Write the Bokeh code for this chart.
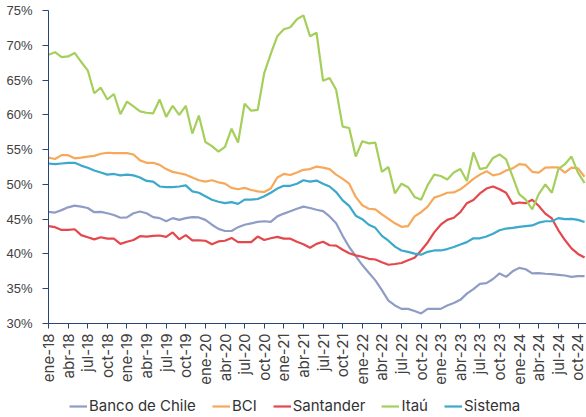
from bokeh.plotting import figure
from bokeh.layouts import column
from bokeh.models import FixedTicker, Legend, LegendItem, PrintfTickFormatter, Range1d
from bokeh.embed import file_html
from bokeh.resources import INLINE
import math

meses = ["ene", "feb", "mar", "abr", "may", "jun", "jul", "ago", "sep", "oct", "nov", "dic"]
anios = ["18", "19", "20", "21", "22", "23", "24"]
fechas = [f"{m}-{a}" for a in anios for m in meses][:83]   # ene-18 .. nov-24

banco_chile = [46.05, 45.95, 46.3, 46.7, 46.95, 46.8, 46.6, 46.0, 46.05, 45.85,
               45.6, 45.2, 45.25, 45.85, 46.1, 45.85, 45.3, 45.15, 44.7, 45.15,
               44.9, 45.15, 45.3, 45.25, 44.9, 44.2, 43.6, 43.3, 43.3, 43.85,
               44.2, 44.4, 44.6, 44.7, 44.6, 45.4, 45.8, 46.15, 46.5, 46.8,
               46.6, 46.35, 46.15, 45.4, 44.4, 42.6, 41.0, 39.7, 38.4, 37.3,
               36.2, 34.8, 33.3, 32.6, 32.1, 32.1, 31.8, 31.45, 32.1, 32.1,
               32.1, 32.6, 32.95, 33.4, 34.3, 34.95, 35.7, 35.8, 36.4, 37.2,
               36.7, 37.5, 38.0, 37.8, 37.2, 37.25, 37.15, 37.1, 37.0, 36.9,
               36.7, 36.8, 36.8]
bci = [53.85, 53.65, 54.2, 54.2, 53.75, 53.85, 54.0, 54.1, 54.4, 54.55,
       54.5, 54.5, 54.5, 54.3, 53.45, 53.1, 53.1, 52.8, 52.2, 51.8,
       51.6, 51.4, 51.0, 50.6, 50.4, 50.6, 50.3, 50.1, 49.5, 49.3,
       49.5, 49.2, 49.0, 48.9, 49.4, 51.0, 51.5, 51.35, 51.7, 52.1,
       52.2, 52.55, 52.4, 52.2, 51.4, 50.8, 50.1, 48.2, 47.0, 46.5,
       46.4, 45.7, 45.05, 44.4, 43.9, 44.0, 45.4, 46.0, 46.8, 48.1,
       48.4, 48.8, 48.85, 49.3, 50.0, 50.8, 51.4, 51.9, 51.3, 51.5,
       52.0, 52.3, 52.9, 52.8, 51.8, 51.7, 52.4, 52.45, 52.45, 51.7,
       52.4, 52.3, 51.1]
santander = [44.0, 43.85, 43.45, 43.45, 43.55, 42.7, 42.4, 42.1, 42.4, 42.2,
             42.2, 41.45, 41.75, 42.0, 42.55, 42.5, 42.6, 42.65, 42.45, 43.1,
             42.1, 42.7, 41.95, 41.95, 41.9, 41.4, 41.8, 41.9, 42.3, 41.7,
             41.7, 41.7, 42.5, 42.0, 42.25, 42.45, 42.2, 42.2, 41.75, 41.4,
             40.9, 41.45, 41.75, 41.25, 41.2, 40.6, 40.1, 39.8, 39.6, 39.3,
             39.2, 38.8, 38.45, 38.55, 38.7, 39.1, 39.45, 40.5, 41.65, 43.1,
             44.2, 44.9, 45.2, 46.0, 47.3, 47.75, 48.7, 49.4, 49.7, 49.3,
             48.8, 47.2, 47.4, 47.3, 47.8, 46.9, 45.8, 45.1, 43.4, 42.0,
             40.8, 40.0, 39.5]
itau = [68.65, 69.0, 68.3, 68.4, 68.9, 67.6, 66.4, 63.1, 63.9, 62.2,
        63.0, 60.1, 61.9, 61.2, 60.5, 60.3, 60.2, 62.2, 59.7, 61.3,
        60.0, 61.3, 57.3, 59.9, 56.1, 55.5, 54.7, 55.4, 58.0, 56.0,
        61.6, 60.6, 60.7, 66.0, 68.75, 71.3, 72.3, 72.6, 73.75, 74.3,
        71.3, 71.8, 64.9, 65.3, 63.6, 58.3, 58.1, 54.0, 56.2, 55.9,
        56.0, 51.8, 52.5, 48.7, 50.1, 49.6, 48.2, 47.8, 49.9, 51.4,
        51.2, 50.7, 51.7, 52.2, 50.5, 54.6, 52.2, 52.4, 53.8, 54.3,
        53.6, 51.1, 48.6, 47.8, 46.4, 48.6, 50.0, 48.8, 52.2, 52.9,
        54.0, 51.7, 50.2]
sistema = [53.0, 52.9, 53.0, 53.1, 53.1, 52.7, 52.4, 52.0, 51.7, 51.4,
           51.5, 51.3, 51.4, 51.3, 51.0, 50.5, 50.4, 49.7, 49.6, 49.6,
           49.7, 49.85, 49.0, 48.8, 48.3, 47.8, 47.5, 47.3, 47.45, 47.2,
           47.8, 47.8, 47.9, 48.3, 48.8, 49.4, 49.8, 49.8, 50.1, 50.6,
           50.4, 50.55, 50.1, 49.7, 48.9, 47.7, 46.9, 45.5, 45.0, 44.2,
           43.75, 42.6, 41.9, 41.05, 40.5, 40.3, 40.05, 39.9, 40.3, 40.5,
           40.5, 40.7, 41.0, 41.35, 41.7, 42.25, 42.25, 42.5, 42.9, 43.4,
           43.65, 43.75, 43.9, 44.0, 44.1, 44.5, 44.7, 44.7, 45.15, 45.0,
           45.05, 44.9, 44.6]

nombres = ["Banco de Chile", "BCI", "Santander", "Itaú", "Sistema"]
series = [banco_chile, bci, santander, itau, sistema]
colores = ["#8F9CC6", "#F6A95A", "#E4474C", "#A5CF5B", "#3AA9CB"]
y_ticks = [30, 35, 40, 45, 50, 55, 60, 65, 70, 75]

x = list(range(len(fechas)))
tick_pos = list(range(0, len(fechas), 3))

p = figure(width=586, height=387, output_backend="svg", toolbar_location=None,
           x_range=Range1d(0, 82.3), y_range=Range1d(30, 75),
           min_border_left=48, min_border_right=0, min_border_top=10, min_border_bottom=64)
p.outline_line_color = None
p.xgrid.visible = False
p.ygrid.visible = False
p.background_fill_color = "white"
p.border_fill_color = "white"

axis_col = "#2A4478"
p.yaxis.ticker = FixedTicker(ticks=y_ticks)
p.yaxis.formatter = PrintfTickFormatter(format="%d%%")
p.yaxis.axis_line_color = axis_col
p.yaxis.major_tick_line_color = axis_col
p.yaxis.major_tick_out = 6
p.yaxis.major_tick_in = 0
p.yaxis.minor_tick_line_color = None
p.yaxis.major_label_standoff = 10
p.yaxis.major_label_text_font = "Liberation Sans"
p.yaxis.major_label_text_font_size = "13px"
p.yaxis.major_label_text_color = "#404040"

p.xaxis.ticker = FixedTicker(ticks=tick_pos)
p.xaxis.major_label_overrides = {i: fechas[i] for i in tick_pos}
p.xaxis.axis_line_color = axis_col
p.xaxis.major_tick_line_color = axis_col
p.xaxis.major_tick_out = 5
p.xaxis.major_tick_in = 0
p.xaxis.minor_tick_line_color = None
p.xaxis.major_label_orientation = math.pi / 2
p.xaxis.major_label_standoff = 5
p.xaxis.major_label_text_font = "Inter"
p.xaxis.major_label_text_font_size = "15px"
p.xaxis.major_label_text_color = "#404040"

for nombre, vals, col in zip(nombres, series, colores):
    p.line(x, vals, line_color=col, line_width=2.2)

# legend strip below the chart (same series, plotted outside its visible range)
pl = figure(width=586, height=30, output_backend="svg", toolbar_location=None,
            x_range=Range1d(0, 1), y_range=Range1d(0, 1),
            x_axis_location=None, y_axis_location=None,
            min_border_left=48, min_border_right=0, min_border_top=0, min_border_bottom=0)
pl.outline_line_color = None
pl.xgrid.visible = False
pl.ygrid.visible = False
pl.background_fill_color = "white"
pl.border_fill_color = "white"
items = []
for nombre, vals, col in zip(nombres, series, colores):
    r = pl.line(x, vals, line_color=col, line_width=2.2)
    items.append(LegendItem(label=nombre, renderers=[r]))
legend = Legend(items=items, orientation="horizontal", location=(21, 2),
                border_line_color=None, background_fill_alpha=0,
                padding=0, margin=0, spacing=16, label_standoff=2,
                glyph_width=18, glyph_height=18, label_height=18,
                label_text_font="Inter", label_text_font_size="15px",
                label_text_color="#333333")
pl.add_layout(legend, "center")

layout = column(p, pl, spacing=0)
open("out.html", "w").write(file_html(layout, INLINE))
